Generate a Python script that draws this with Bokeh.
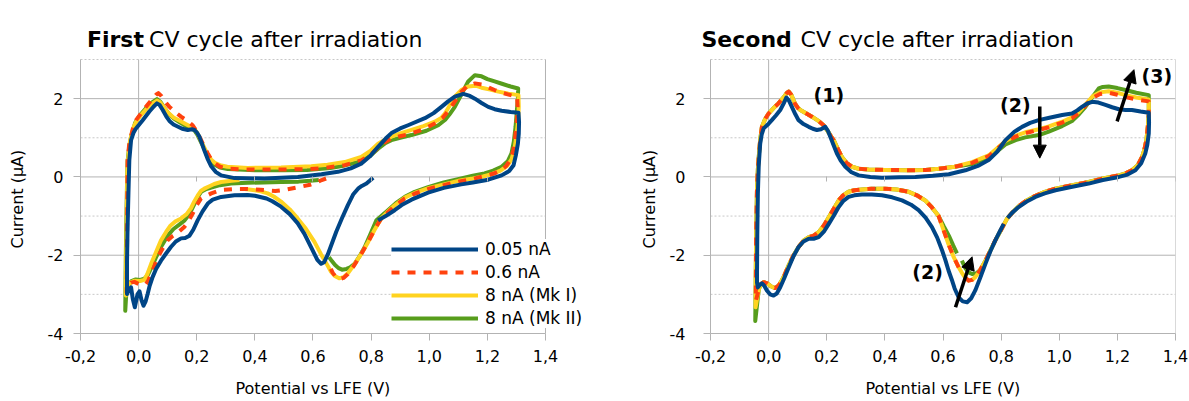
from bokeh.plotting import figure
from bokeh.layouts import row
from bokeh.models import (Range1d, FixedTicker, CustomJSTickFormatter, Label, Arrow,
                          NormalHead, Legend, LegendItem, LinearAxis, Title)
from bokeh.embed import file_html
from bokeh.resources import INLINE

FONT = "DejaVu Sans"
BLUE, ORANGE, YELLOW, GREEN = "#004586", "#ff420e", "#ffd320", "#579d1c"
GRID = "#b3b3b3"

x_ticks = [-0.2, 0.0, 0.2, 0.4, 0.6, 0.8, 1.0, 1.2, 1.4]
y_ticks = [-4, -2, 0, 2]
y_minor = [-3, -1, 1, 3]
x_lines = [-0.2, 0.0, 1.4]
series_labels = ["0.05 nA", "0.6 nA", "8 nA (Mk I)", "8 nA (Mk II)"]
titles = [("First", "CV cycle after irradiation"), ("Second", "CV cycle after irradiation")]
x_title = "Potential vs LFE (V)"
y_title = "Current (μA)"

# ---------------- First cycle (potential V, current uA) ----------------
c1_blue = [(0.807,-0.02),(0.795,-0.10),(0.784,-0.17),(0.768,-0.23),(0.755,-0.30),(0.738,-0.45),
 (0.720,-0.72),(0.700,-1.05),(0.680,-1.40),(0.665,-1.70),(0.651,-1.98),(0.638,-2.18),(0.628,-2.22),
 (0.615,-2.12),(0.595,-1.82),(0.570,-1.45),(0.547,-1.18),(0.520,-0.95),(0.490,-0.76),(0.460,-0.62),
 (0.440,-0.55),(0.400,-0.48),(0.375,-0.46),(0.330,-0.47),(0.284,-0.51),(0.255,-0.58),(0.238,-0.68),
 (0.220,-0.88),(0.203,-1.11),(0.188,-1.35),(0.175,-1.50),(0.160,-1.56),(0.146,-1.57),(0.128,-1.65),
 (0.111,-1.79),(0.095,-1.95),(0.077,-2.14),(0.060,-2.35),(0.048,-2.56),(0.038,-2.78),(0.031,-2.99),
 (0.024,-3.18),(0.017,-3.29),(0.010,-3.15),(0.003,-2.92),(-0.004,-3.00),(-0.013,-3.33),(-0.020,-3.12),
 (-0.026,-2.82),(-0.033,-2.88),(-0.040,-2.99),(-0.040,-2.20),(-0.038,-1.28),(-0.035,-0.40),
 (-0.032,0.43),(-0.026,0.94),(-0.018,1.12),(-0.009,1.24),(0.014,1.45),(0.037,1.67),(0.052,1.80),
 (0.063,1.88),(0.072,1.84),(0.083,1.71),(0.095,1.55),(0.106,1.43),(0.120,1.34),(0.134,1.29),
 (0.150,1.23),(0.169,1.20),(0.183,1.22),(0.192,1.20),(0.200,1.14),(0.209,1.03),(0.218,0.85),
 (0.226,0.68),(0.237,0.47),(0.249,0.28),(0.265,0.13),(0.284,0.04),(0.330,-0.03),(0.433,-0.04),
 (0.548,0.00),(0.629,0.07),(0.686,0.13),(0.730,0.22),(0.766,0.34),(0.795,0.52),(0.824,0.77),
 (0.850,0.98),(0.870,1.12),(0.900,1.24),(0.927,1.32),(0.985,1.50),(1.015,1.63),(1.042,1.79),
 (1.065,1.93),(1.088,2.05),(1.117,2.12),(1.140,2.07),(1.157,2.00),(1.180,1.89),(1.203,1.79),
 (1.225,1.73),(1.249,1.69),(1.280,1.66),(1.307,1.64),(1.309,1.40),(1.308,1.10),(1.305,0.85),
 (1.298,0.55),(1.290,0.30),(1.275,0.15),(1.249,0.04),(1.203,-0.07),(1.150,-0.14),(1.110,-0.19),
 (1.050,-0.28),(0.996,-0.40),(0.939,-0.58),(0.905,-0.72),(0.881,-0.85),(0.850,-1.00),(0.824,-1.11)]

c1_red = [(0.645,-0.04),(0.630,-0.08),(0.610,-0.15),(0.590,-0.20),(0.550,-0.26),(0.510,-0.32),
 (0.470,-0.36),(0.420,-0.33),(0.375,-0.31),(0.330,-0.31),(0.284,-0.33),(0.250,-0.42),(0.215,-0.55),
 (0.200,-0.72),(0.185,-0.95),(0.170,-1.15),(0.157,-1.28),(0.134,-1.43),(0.115,-1.52),(0.100,-1.62),
 (0.083,-1.82),(0.066,-2.05),(0.054,-2.28),(0.043,-2.48),(0.033,-2.65),(0.025,-2.74),(0.012,-2.76),
 (0.002,-2.74),(-0.015,-2.68),(-0.026,-2.70),(-0.036,-2.80),(-0.041,-2.95),(-0.040,-2.00),
 (-0.039,-0.80),(-0.038,0.43),(-0.033,0.80),(-0.026,1.05),(-0.018,1.28),(-0.009,1.45),(0.008,1.62),
 (0.025,1.79),(0.045,1.97),(0.060,2.10),(0.068,2.14),(0.078,2.07),(0.090,1.93),(0.106,1.79),
 (0.125,1.66),(0.146,1.54),(0.168,1.43),(0.186,1.32),(0.200,1.16),(0.215,0.94),(0.227,0.75),
 (0.238,0.60),(0.250,0.45),(0.260,0.36),(0.280,0.26),(0.307,0.21),(0.376,0.19),(0.490,0.19),
 (0.590,0.20),(0.629,0.22),(0.709,0.30),(0.766,0.42),(0.800,0.58),(0.824,0.75),(0.850,0.90),
 (0.870,0.98),(0.900,1.04),(0.939,1.11),(0.980,1.22),(1.020,1.37),(1.045,1.50),(1.065,1.68),
 (1.090,1.95),(1.110,2.17),(1.130,2.32),(1.157,2.39),(1.180,2.36),(1.200,2.30),(1.225,2.22),
 (1.250,2.15),(1.280,2.09),(1.302,2.05),(1.304,1.80),(1.302,1.50),(1.297,1.10),(1.290,0.70),
 (1.280,0.45),(1.265,0.28),(1.245,0.16),(1.220,0.08),(1.185,0.01),(1.150,-0.05),(1.100,-0.12),
 (1.050,-0.21),(1.000,-0.30),(0.950,-0.43),(0.916,-0.55),(0.880,-0.75),(0.858,-0.90),(0.835,-1.06),
 (0.815,-1.30),(0.790,-1.66),(0.765,-1.98),(0.740,-2.28),(0.720,-2.48),(0.705,-2.58),(0.690,-2.61),
 (0.678,-2.55),(0.668,-2.45),(0.655,-2.25)]

c1_yellow = [(0.347,-0.08),(0.320,-0.10),(0.284,-0.13),(0.260,-0.18),(0.240,-0.25),(0.226,-0.30),
 (0.215,-0.35),(0.203,-0.48),(0.192,-0.62),(0.180,-0.80),(0.165,-0.95),(0.146,-1.06),(0.128,-1.13),
 (0.110,-1.24),(0.095,-1.40),(0.077,-1.62),(0.060,-1.92),(0.043,-2.22),(0.030,-2.48),(0.020,-2.63),
 (0.005,-2.66),(-0.015,-2.65),(-0.028,-2.70),(-0.038,-2.82),(-0.044,-3.03),(-0.043,-2.20),
 (-0.041,-1.00),(-0.039,0.10),(-0.037,0.40),(-0.030,0.90),(-0.020,1.22),(-0.008,1.42),(0.010,1.60),
 (0.030,1.76),(0.048,1.88),(0.063,1.95),(0.072,1.92),(0.085,1.80),(0.100,1.65),(0.120,1.52),
 (0.140,1.44),(0.160,1.36),(0.180,1.28),(0.195,1.20),(0.205,1.08),(0.215,0.92),(0.226,0.75),
 (0.237,0.58),(0.250,0.44),(0.262,0.36),(0.280,0.30),(0.305,0.26),(0.376,0.23),(0.490,0.24),
 (0.594,0.27),(0.650,0.31),(0.709,0.38),(0.766,0.51),(0.800,0.68),(0.824,0.85),(0.850,0.96),
 (0.870,1.03),(0.900,1.11),(0.939,1.20),(0.980,1.30),(1.019,1.41),(1.040,1.50),(1.054,1.62),
 (1.070,1.82),(1.088,2.05),(1.110,2.22),(1.134,2.31),(1.160,2.33),(1.180,2.28),(1.210,2.23),
 (1.238,2.18),(1.270,2.13),(1.307,2.09),(1.308,1.80),(1.306,1.45),(1.300,1.05),(1.293,0.70),
 (1.283,0.45),(1.268,0.28),(1.245,0.16),(1.215,0.07),(1.185,0.01),(1.150,-0.04),(1.100,-0.10),
 (1.050,-0.19),(1.000,-0.28),(0.950,-0.41),(0.916,-0.53),(0.880,-0.73),(0.858,-0.88),(0.835,-1.06),
 (0.812,-1.35),(0.790,-1.66),(0.765,-1.98),(0.740,-2.26),(0.720,-2.46),(0.705,-2.56),(0.690,-2.59),
 (0.675,-2.53),(0.662,-2.42),(0.650,-2.26),(0.628,-1.98),(0.605,-1.66),(0.575,-1.32),(0.547,-1.06),
 (0.520,-0.83),(0.490,-0.63),(0.465,-0.50),(0.444,-0.42),(0.420,-0.37),(0.400,-0.34),(0.380,-0.32),
 (0.364,-0.31)]

c1_green = [(0.620,-0.08),(0.590,-0.10),(0.550,-0.12),(0.490,-0.13),(0.430,-0.14),(0.376,-0.15),
 (0.318,-0.17),(0.280,-0.21),(0.250,-0.27),(0.230,-0.32),(0.215,-0.38),(0.203,-0.52),(0.190,-0.72),
 (0.175,-0.95),(0.157,-1.12),(0.140,-1.22),(0.120,-1.33),(0.100,-1.50),(0.080,-1.75),(0.062,-2.02),
 (0.045,-2.30),(0.032,-2.50),(0.020,-2.60),(0.005,-2.63),(-0.010,-2.62),(-0.025,-2.66),(-0.036,-2.78),
 (-0.043,-3.05),(-0.046,-3.42),(-0.045,-2.60),(-0.043,-1.40),(-0.040,-0.20),(-0.038,0.40),
 (-0.032,0.80),(-0.025,1.05),(-0.012,1.38),(0.005,1.58),(0.025,1.75),(0.045,1.90),(0.063,1.99),
 (0.075,1.92),(0.090,1.75),(0.105,1.60),(0.120,1.50),(0.140,1.40),(0.160,1.31),(0.178,1.25),
 (0.192,1.19),(0.203,1.07),(0.212,0.93),(0.224,0.75),(0.235,0.58),(0.247,0.43),(0.260,0.32),
 (0.280,0.24),(0.307,0.20),(0.400,0.17),(0.500,0.17),(0.580,0.18),(0.620,0.20),(0.660,0.23),
 (0.700,0.28),(0.766,0.40),(0.800,0.56),(0.824,0.72),(0.850,0.87),(0.870,0.94),(0.900,1.00),
 (0.939,1.07),(0.990,1.18),(1.031,1.32),(1.055,1.46),(1.070,1.60),(1.088,1.79),(1.110,2.10),
 (1.134,2.44),(1.157,2.60),(1.180,2.57),(1.200,2.50),(1.225,2.44),(1.250,2.38),(1.280,2.31),
 (1.306,2.26),(1.305,2.00),(1.301,1.65),(1.297,1.28),(1.291,0.90),(1.283,0.60),(1.270,0.40),
 (1.249,0.26),(1.220,0.16),(1.190,0.09),(1.150,0.03),(1.110,-0.04),(1.050,-0.14),(0.996,-0.26),
 (0.950,-0.38),(0.916,-0.51),(0.885,-0.67),(0.858,-0.85),(0.838,-0.98),(0.818,-1.11),(0.798,-1.45),
 (0.778,-1.79),(0.760,-2.03),(0.743,-2.22),(0.728,-2.31),(0.715,-2.35),(0.700,-2.37),(0.688,-2.33),
 (0.676,-2.25),(0.665,-2.15),(0.655,-2.05)]

# ---------------- Second cycle ----------------
c2_blue = [(0.809,-1.20),(0.795,-1.40),(0.780,-1.62),(0.763,-1.90),(0.746,-2.22),(0.728,-2.58),
 (0.711,-2.90),(0.697,-3.10),(0.683,-3.20),(0.668,-3.18),(0.654,-3.08),(0.640,-2.85),(0.630,-2.62),
 (0.619,-2.39),(0.608,-2.12),(0.597,-1.88),(0.580,-1.55),(0.562,-1.28),(0.540,-1.04),(0.516,-0.85),
 (0.490,-0.71),(0.459,-0.60),(0.425,-0.52),(0.390,-0.47),(0.355,-0.45),(0.321,-0.45),(0.295,-0.47),
 (0.275,-0.51),(0.256,-0.62),(0.241,-0.77),(0.225,-0.98),(0.207,-1.20),(0.190,-1.40),(0.172,-1.54),
 (0.155,-1.58),(0.138,-1.58),(0.120,-1.65),(0.103,-1.79),(0.086,-2.02),(0.069,-2.31),(0.054,-2.58),
 (0.040,-2.82),(0.028,-2.98),(0.017,-3.03),(0.005,-3.00),(-0.006,-2.90),(-0.015,-2.78),(-0.023,-2.72),
 (-0.031,-2.76),(-0.037,-2.82),(-0.040,-2.70),(-0.040,-2.48),(-0.039,-1.50),(-0.037,-0.43),
 (-0.034,0.30),(-0.029,0.85),(-0.024,1.08),(-0.017,1.24),(0.000,1.36),(0.011,1.45),(0.025,1.57),
 (0.040,1.71),(0.052,1.88),(0.061,2.03),(0.070,1.95),(0.080,1.79),(0.092,1.60),(0.103,1.45),
 (0.120,1.35),(0.138,1.28),(0.152,1.23),(0.166,1.20),(0.180,1.22),(0.195,1.28),(0.204,1.18),
 (0.212,1.03),(0.223,0.82),(0.235,0.60),(0.248,0.42),(0.264,0.26),(0.285,0.12),(0.310,0.04),
 (0.350,0.00),(0.390,-0.02),(0.450,-0.01),(0.505,0.00),(0.565,0.03),(0.620,0.07),(0.677,0.17),
 (0.720,0.28),(0.757,0.43),(0.787,0.65),(0.815,0.94),(0.845,1.15),(0.872,1.28),(0.900,1.38),
 (0.929,1.45),(0.970,1.52),(1.010,1.58),(1.044,1.62),(1.062,1.70),(1.078,1.79),(1.095,1.87),
 (1.113,1.92),(1.135,1.90),(1.159,1.84),(1.182,1.78),(1.205,1.73),(1.228,1.71),(1.250,1.71),
 (1.280,1.67),(1.308,1.64),(1.309,1.40),(1.308,1.11),(1.303,0.82),(1.296,0.60),(1.282,0.35),
 (1.262,0.17),(1.235,0.06),(1.205,0.00),(1.150,-0.08),(1.101,-0.17),(1.045,-0.25),(0.987,-0.34),
 (0.950,-0.42),(0.918,-0.51),(0.888,-0.63),(0.860,-0.77),(0.840,-0.90),(0.822,-1.05)]

# shared pieces of the second cycle for the 0.6 nA and 8 nA traces
c2_wave_left = [(0.654,-2.31),(0.637,-2.05),(0.619,-1.72),(0.602,-1.36)]
c2_wave_left_green = [(0.648,-1.95),(0.635,-1.75),(0.620,-1.50),(0.602,-1.25)]
c2_lower_a = [(0.585,-1.00),(0.562,-0.78),(0.539,-0.60),(0.510,-0.47),(0.482,-0.38),(0.440,-0.32),
 (0.400,-0.30),(0.370,-0.30)]
c2_lower_b = [(0.355,-0.30),(0.321,-0.32),(0.295,-0.34),(0.275,-0.38),(0.256,-0.47),(0.241,-0.60),
 (0.225,-0.80),(0.207,-1.03),(0.190,-1.24),(0.172,-1.41),(0.155,-1.50),(0.138,-1.54),(0.120,-1.63),
 (0.103,-1.79),(0.086,-2.00),(0.069,-2.26),(0.055,-2.50),(0.045,-2.65),(0.034,-2.78),(0.022,-2.84),
 (0.010,-2.80),(-0.005,-2.72),(-0.017,-2.69),(-0.027,-2.74),(-0.034,-2.88)]
c2_spike_red = [(-0.044,-3.16)]
c2_spike_yellow = [(-0.045,-3.33)]
c2_spike_green = [(-0.046,-3.68)]
c2_rise = [(-0.043,-1.50),(-0.040,-0.30),(-0.037,0.20),(-0.034,0.51),(-0.029,0.95),(-0.023,1.28),
 (-0.012,1.48),(0.000,1.62),(0.017,1.76),(0.034,1.88),(0.050,2.02),(0.062,2.14),(0.069,2.18),
 (0.078,2.10),(0.090,1.88),(0.100,1.77),(0.109,1.71),(0.130,1.62),(0.149,1.54),(0.170,1.44),
 (0.189,1.32),(0.205,1.15),(0.215,1.03),(0.224,0.94),(0.238,0.72),(0.252,0.51),(0.268,0.36),
 (0.287,0.26),(0.310,0.21),(0.344,0.19),(0.400,0.18),(0.482,0.17),(0.540,0.18),(0.585,0.21),
 (0.640,0.26)]
c2_anodic_green = [(0.700,0.33),(0.757,0.49),(0.787,0.66),(0.815,0.83),(0.850,0.94),(0.883,1.01),
 (0.930,1.07),(0.964,1.16),(1.010,1.30),(1.044,1.43),(1.068,1.60),(1.090,1.79),(1.115,2.05),
 (1.136,2.26),(1.150,2.30),(1.170,2.31),(1.200,2.27),(1.228,2.22),(1.265,2.15),(1.308,2.09)]
c2_anodic_red = [(0.700,0.36),(0.757,0.53),(0.787,0.72),(0.815,0.90),(0.850,1.03),(0.883,1.12),
 (0.930,1.20),(0.964,1.27),(1.010,1.39),(1.044,1.50),(1.068,1.64),(1.090,1.82),(1.115,2.02),
 (1.140,2.12),(1.170,2.15),(1.200,2.10),(1.228,2.04),(1.265,1.98),(1.308,1.93)]
c2_anodic_yellow = [(0.700,0.38),(0.757,0.55),(0.787,0.74),(0.815,0.92),(0.850,1.05),(0.883,1.14),
 (0.930,1.22),(0.964,1.29),(1.010,1.41),(1.044,1.52),(1.068,1.66),(1.090,1.85),(1.115,2.06),
 (1.140,2.16),(1.170,2.19),(1.200,2.15),(1.228,2.09),(1.265,2.03),(1.308,1.98)]
c2_return = [(1.308,1.60),(1.305,1.30),(1.300,0.95),(1.293,0.70),(1.285,0.51),(1.270,0.30),
 (1.250,0.17),(1.228,0.09),(1.205,0.04),(1.150,-0.04),(1.101,-0.13),(1.045,-0.21),(0.987,-0.30),
 (0.950,-0.38),(0.918,-0.48),(0.888,-0.60),(0.860,-0.75),(0.840,-0.90),(0.820,-1.07),(0.800,-1.35),
 (0.780,-1.62),(0.763,-1.88),(0.746,-2.14),(0.728,-2.38)]
c2_min = [(0.711,-2.56),(0.700,-2.63),(0.688,-2.65),(0.675,-2.56),(0.665,-2.45)]
c2_min_green = [(0.715,-2.46),(0.700,-2.48),(0.688,-2.44),(0.676,-2.32),(0.665,-2.14)]

c2_red = (c2_wave_left + c2_lower_a + c2_lower_b + c2_spike_red + c2_rise + c2_anodic_red
          + c2_return + c2_min)
c2_yellow = (c2_lower_b + c2_spike_yellow + c2_rise + c2_anodic_yellow + c2_return + c2_min
             + c2_wave_left + c2_lower_a)
c2_green = (c2_wave_left_green + c2_lower_a + c2_lower_b + c2_spike_green + c2_rise
            + c2_anodic_green + c2_return + c2_min_green)

# ---------------- annotations ----------------
note_texts = ["(1)", "(2)", "(3)", "(2)"]
note_x = [0.207, 0.849, 1.336, 0.547]
note_y = [2.10, 1.83, 2.59, -2.44]
arrow_start = [(0.933, 1.80), (1.199, 1.42), (0.643, -3.33)]
arrow_end = [(0.933, 0.48), (1.257, 2.74), (0.700, -2.04)]
title_x = [(-0.178, 0.036), (-0.231, 0.110)]
title_y = 3.52

PX_X = 290.6   # pixels per volt
PX_Y = 39.14   # pixels per microampere


def spacer_axis(size, ticks, bounds):
    # invisible axis that only reserves `size` pixels in a side panel
    return LinearAxis(ticker=FixedTicker(ticks=ticks), bounds=bounds, axis_line_color=None,
                      major_tick_line_color="#ffffff", minor_tick_line_color=None,
                      major_tick_in=0, major_tick_out=size, minor_tick_in=0, minor_tick_out=0,
                      formatter=CustomJSTickFormatter(code="return '';"),
                      major_label_standoff=0, major_label_text_font_size="1px")


def make_panel(width, left, right, extra_left, extra_right, xt_offset, left_gap, below_gap):
    top_px = 10
    x_start = -0.2 - extra_left / PX_X
    x_end = 1.4 + extra_right / PX_X
    y_end = 3 + (59 - top_px) / PX_Y
    p = figure(width=width, height=401, x_range=Range1d(x_start, x_end),
               y_range=Range1d(-4, y_end), output_backend="svg", toolbar_location=None,
               min_border_left=left, min_border_right=right,
               min_border_top=top_px, min_border_bottom=68)
    p.outline_line_color = None
    p.background_fill_color = "white"
    p.border_fill_color = "white"
    p.xgrid.visible = False
    p.ygrid.visible = False
    xt = FixedTicker(ticks=x_ticks)
    yt = FixedTicker(ticks=y_ticks)
    p.xaxis.ticker = xt
    p.yaxis.ticker = yt
    p.xaxis.bounds = (x_ticks[0], x_ticks[-1])
    p.yaxis.bounds = (-4, 3)
    p.xaxis.formatter = CustomJSTickFormatter(code="return tick.toFixed(1).replace('.', ',');")
    p.yaxis.formatter = CustomJSTickFormatter(code="return tick.toFixed(0);")
    for ax in (p.xaxis, p.yaxis):
        ax.axis_line_color = GRID
        ax.major_tick_line_color = GRID
        ax.major_tick_in = 0
        ax.major_tick_out = 7
        ax.minor_tick_line_color = None
        ax.major_label_text_font = FONT
        ax.major_label_text_font_size = "16px"
        ax.major_label_text_color = "#000000"
    p.xaxis.major_label_standoff = 9
    p.yaxis.major_label_standoff = 10
    if extra_left:
        # the frame starts left of -0.2 V: draw the ticks shifted into place
        p.yaxis.axis_line_color = None
        p.yaxis.major_tick_in = extra_left
        p.yaxis.major_tick_out = 7 - extra_left
    # plot-area grid, limited to the -0.2..1.4 / -4..3 window
    x0 = x_ticks[0]
    x1 = x_ticks[-1]
    p.segment(x0=[x0] * len(y_ticks), x1=[x1] * len(y_ticks), y0=y_ticks, y1=y_ticks,
              line_color=GRID, line_width=1)
    p.segment(x0=[x0] * len(y_minor), x1=[x1] * len(y_minor), y0=y_minor, y1=y_minor,
              line_color="#c8c8c8", line_width=1, line_dash="2 2")
    p.segment(x0=x_lines, x1=x_lines, y0=[-4] * len(x_lines), y1=[3] * len(x_lines),
              line_color=GRID, line_width=1)
    zero_axis = LinearAxis(fixed_location=0, ticker=xt, axis_line_color=None,
                           bounds=(x0, x1),
                           major_tick_line_color=GRID, major_tick_in=0, major_tick_out=5,
                           minor_tick_line_color=None, major_label_text_color=None,
                           major_label_standoff=0, major_label_text_font_size="1px")
    p.add_layout(zero_axis, "below")
    # axis titles as side-panel titles so they can be centred on the -0.2..1.4 / -4..3 window
    p.add_layout(spacer_axis(below_gap, [0.6], (x0, x1)), "below")
    p.add_layout(Title(text=x_title, align="left", offset=xt_offset, vertical_align="top",
                       standoff=0, text_font=FONT, text_font_size="16px",
                       text_font_style="normal", text_color="#000000"), "below")
    p.add_layout(spacer_axis(left_gap, [0], (-4, 3)), "left")
    p.add_layout(Title(text=y_title, align="left", offset=85, vertical_align="bottom",
                       standoff=0, text_font=FONT, text_font_size="16px",
                       text_font_style="normal", text_color="#000000"), "left")
    return p


def draw(p, pts, color, dash="solid"):
    xs = [a for a, b in pts]
    ys = [b for a, b in pts]
    return p.line(xs, ys, line_color=color, line_width=4, line_dash=dash, line_join="round")


def add_title(p, idx):
    bold, rest = titles[idx]
    xa, xb = title_x[idx]
    p.add_layout(Label(x=xa, y=title_y, text=bold, text_font=FONT, text_font_size="22px",
                       text_font_style="bold", text_color="#000000", text_baseline="alphabetic"))
    p.add_layout(Label(x=xb, y=title_y, text=rest, text_font=FONT, text_font_size="22px",
                       text_color="#000000", text_baseline="alphabetic"))


# left panel: frame spans 80..590 px so that the legend may overhang the 1.4 V edge
p1 = make_panel(595, 80, 5, 0, 45, 155, 18, 14)
g1 = draw(p1, c1_green, GREEN)
y1 = draw(p1, c1_yellow, YELLOW)
r1 = draw(p1, c1_red, ORANGE, "8 8")
b1 = draw(p1, c1_blue, BLUE)
add_title(p1, 0)
legend = Legend(items=[LegendItem(label=series_labels[0], renderers=[b1]),
                       LegendItem(label=series_labels[1], renderers=[r1]),
                       LegendItem(label=series_labels[2], renderers=[y1]),
                       LegendItem(label=series_labels[3], renderers=[g1])],
                location=(311, 5), glyph_width=87, glyph_height=20, label_height=20,
                label_standoff=7, spacing=3, padding=2, margin=0,
                label_text_font=FONT, label_text_font_size="17px", label_text_color="#000000",
                border_line_color=None, background_fill_color="white", background_fill_alpha=1.0)
p1.add_layout(legend)

# right panel: frame starts 15 px left of -0.2 V so the title can start there
p2 = make_panel(594, 100, 14, 15, 0, 170, 8, 14)
draw(p2, c2_green, GREEN)
draw(p2, c2_yellow, YELLOW)
draw(p2, c2_red, ORANGE, "8 8")
draw(p2, c2_blue, BLUE)
add_title(p2, 1)
for t, tx, ty in zip(note_texts, note_x, note_y):
    p2.add_layout(Label(x=tx, y=ty, text=t, text_font=FONT, text_font_size="19px",
                        text_font_style="bold", text_color="#000000",
                        text_align="center", text_baseline="middle"))
for (xs0, ys0), (xe, ye) in zip(arrow_start, arrow_end):
    p2.add_layout(Arrow(end=NormalHead(size=13, fill_color="black", line_color="black"),
                        x_start=xs0, y_start=ys0, x_end=xe, y_end=ye,
                        line_width=3.5, line_color="black"))

layout = row(p1, p2)
open("out.html", "w").write(file_html(layout, INLINE, title="CV cycles"))
